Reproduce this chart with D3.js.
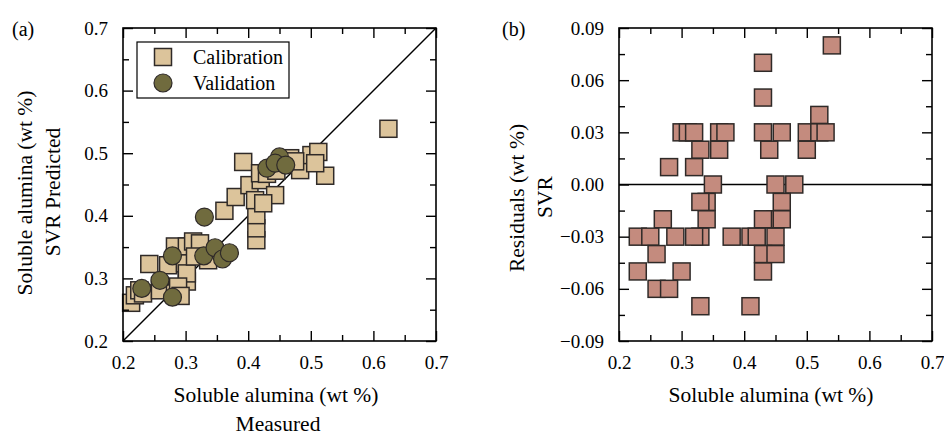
<!DOCTYPE html>
<html><head><meta charset="utf-8">
<script src="https://cdn.jsdelivr.net/npm/d3@7"></script>
<style>
html,body{margin:0;padding:0;background:#fff;}
svg{display:block;font-family:"Liberation Serif","Times New Roman",serif;}
</style></head>
<body><svg id="c" width="944" height="439"></svg>
<script>
// Panel (a): calibration (measured, predicted)
const calMeasured = [0.624,0.213,0.219,0.226,0.232,0.242,0.259,0.272,0.283,0.302,0.312,0.323,0.299,0.302,0.302,0.283,0.288,0.292,0.315,0.336,0.413,0.413,0.413,0.362,0.380,0.392,0.402,0.420,0.419,0.443,0.411,0.424,0.483,0.501,0.512,0.523,0.507,0.467,0.430,0.475,0.445];
const calPredicted = [0.539,0.261,0.273,0.281,0.276,0.323,0.281,0.321,0.351,0.351,0.359,0.356,0.324,0.295,0.308,0.276,0.287,0.272,0.335,0.329,0.361,0.380,0.401,0.408,0.430,0.486,0.449,0.457,0.468,0.433,0.425,0.420,0.473,0.497,0.502,0.464,0.484,0.492,0.467,0.487,0.472];
// Panel (a): validation (measured, predicted)
const valMeasured = [0.230,0.259,0.279,0.279,0.330,0.329,0.347,0.359,0.370,0.430,0.450,0.443,0.460];
const valPredicted = [0.284,0.297,0.270,0.336,0.398,0.336,0.349,0.331,0.341,0.476,0.494,0.484,0.481];
// Panel (b): residuals vs soluble alumina
const resX = [0.54,0.43,0.43,0.52,
  0.30,0.31,0.32,0.36,0.37,0.43,0.46,0.50,0.52,0.53,
  0.33,0.36,0.44,0.50,
  0.28,0.32,
  0.35,0.45,0.48,
  0.34,0.33,0.46,
  0.27,0.34,0.45,0.43,0.46,
  0.23,0.25,0.29,0.33,0.32,0.38,0.41,0.42,0.45,
  0.26,0.43,0.45,
  0.23,0.30,0.43,
  0.26,0.28,
  0.33,0.41];
const resY = [0.08,0.07,0.05,0.04,
  0.03,0.03,0.03,0.03,0.03,0.03,0.03,0.03,0.03,0.03,
  0.02,0.02,0.02,0.02,
  0.01,0.01,
  0.00,0.00,0.00,
  -0.01,-0.01,-0.01,
  -0.02,-0.02,-0.02,-0.02,-0.02,
  -0.03,-0.03,-0.03,-0.03,-0.03,-0.03,-0.03,-0.03,-0.03,
  -0.04,-0.04,-0.04,
  -0.05,-0.05,-0.05,
  -0.06,-0.06,
  -0.07,-0.07];
const xTicks = [0.2,0.3,0.4,0.5,0.6,0.7];
const xMinor = [0.25,0.35,0.45,0.55,0.65];
const yTicksA = [0.2,0.3,0.4,0.5,0.6,0.7];
const yMinorA = [0.25,0.35,0.45,0.55,0.65];
const yTicksB = [-0.09,-0.06,-0.03,0.00,0.03,0.06,0.09];
const yMinorB = [-0.075,-0.045,-0.015,0.015,0.045,0.075];
const legendLabels = ["Calibration","Validation"];

const svg = d3.select("#c");
const TOP=28, BOT=341;
const calFill="#dcc49b", valFill="#706b3e", resFill="#c48b7e", edge="#2f2a28";
const SQ=17;
const TF=21.5;

function frame(g, x, y, xt, xm, yt, ym, yfmt){
  const L=x.range()[0], R=x.range()[1];
  const addAxis=(gen, tr, vals, size, fmt)=>{
    const a=g.append("g").attr("transform",tr)
      .call(gen.tickValues(vals).tickSize(size).tickSizeOuter(0).tickPadding(15).tickFormat(fmt||""));
    a.select(".domain").remove();
    a.selectAll("line").attr("stroke","#000").attr("stroke-width",1.4);
    a.selectAll("text").attr("font-family","Liberation Serif").attr("font-size",19).attr("fill","#000");
    return a;
  };
  addAxis(d3.axisBottom(x), `translate(0,${BOT})`, xt, -10, d3.format(".1f"));
  addAxis(d3.axisBottom(x), `translate(0,${BOT})`, xm, -6);
  addAxis(d3.axisTop(x), `translate(0,${TOP})`, xt, -10);
  addAxis(d3.axisTop(x), `translate(0,${TOP})`, xm, -6);
  addAxis(d3.axisLeft(y), `translate(${L},0)`, yt, -10, yfmt);
  addAxis(d3.axisLeft(y), `translate(${L},0)`, ym, -6);
  addAxis(d3.axisRight(y), `translate(${R},0)`, yt, -10);
  addAxis(d3.axisRight(y), `translate(${R},0)`, ym, -6);
  g.append("rect").attr("x",L).attr("y",TOP).attr("width",R-L).attr("height",BOT-TOP)
    .attr("fill","none").attr("stroke","#000").attr("stroke-width",1.6);
}

// ---------- Panel (a)
const xa = d3.scaleLinear().domain([0.2,0.7]).range([123,436]);
const ya = d3.scaleLinear().domain([0.2,0.7]).range([BOT,TOP]);
const ga = svg.append("g");
const plotA = ga.append("g");
plotA.append("line").attr("x1",xa(0.2)).attr("y1",ya(0.2)).attr("x2",xa(0.7)).attr("y2",ya(0.7))
  .attr("stroke","#000").attr("stroke-width",1.4);
plotA.selectAll("rect.cal").data(calMeasured.map((m,i)=>[m,calPredicted[i]])).join("rect")
  .attr("class","cal").attr("x",d=>xa(d[0])-SQ/2).attr("y",d=>ya(d[1])-SQ/2)
  .attr("width",SQ).attr("height",SQ).attr("fill",calFill).attr("stroke",edge).attr("stroke-width",1.5);
plotA.selectAll("circle.val").data(valMeasured.map((m,i)=>[m,valPredicted[i]])).join("circle")
  .attr("class","val").attr("cx",d=>xa(d[0])).attr("cy",d=>ya(d[1])).attr("r",9)
  .attr("fill",valFill).attr("stroke",edge).attr("stroke-width",1.2);
frame(ga, xa, ya, xTicks, xMinor, yTicksA, yMinorA, d3.format(".1f"));

// legend
const lg = ga.append("g");
lg.append("rect").attr("x",137).attr("y",42).attr("width",152).attr("height",56)
  .attr("fill","#fff").attr("stroke","#000").attr("stroke-width",1.2);
lg.append("rect").attr("x",163-SQ/2).attr("y",57-SQ/2).attr("width",SQ).attr("height",SQ)
  .attr("fill",calFill).attr("stroke",edge).attr("stroke-width",1.5);
lg.append("circle").attr("cx",163).attr("cy",83).attr("r",9)
  .attr("fill",valFill).attr("stroke",edge).attr("stroke-width",1.2);
lg.selectAll("text").data(legendLabels).join("text")
  .attr("x",193).attr("y",(d,i)=>64+i*26).attr("font-size",20).text(d=>d);

ga.append("text").attr("x",12).attr("y",36).attr("font-size",20).text("(a)");
ga.append("text").attr("x",276).attr("y",402).attr("text-anchor","middle").attr("font-size",TF).text("Soluble alumina (wt %)");
ga.append("text").attr("x",278).attr("y",431).attr("text-anchor","middle").attr("font-size",TF).text("Measured");
ga.append("text").attr("transform","translate(32,193) rotate(-90)").attr("text-anchor","middle").attr("font-size",TF).text("Soluble alumina (wt %)");
ga.append("text").attr("transform","translate(60,192) rotate(-90)").attr("text-anchor","middle").attr("font-size",TF).text("SVR Predicted");

// ---------- Panel (b)
const xb = d3.scaleLinear().domain([0.2,0.7]).range([619,932]);
const yb = d3.scaleLinear().domain([-0.09,0.09]).range([BOT,TOP]);
const gb = svg.append("g");
gb.append("line").attr("x1",xb(0.2)).attr("x2",xb(0.7)).attr("y1",yb(0)).attr("y2",yb(0))
  .attr("stroke","#000").attr("stroke-width",1.4);
gb.selectAll("rect.res").data(resX.map((v,i)=>[v,resY[i]])).join("rect")
  .attr("class","res").attr("x",d=>xb(d[0])-SQ/2).attr("y",d=>yb(d[1])-SQ/2)
  .attr("width",SQ).attr("height",SQ).attr("fill",resFill).attr("stroke",edge).attr("stroke-width",1.5);
frame(gb, xb, yb, xTicks, xMinor, yTicksB, yMinorB, d3.format(".2f"));

gb.append("text").attr("x",502).attr("y",36).attr("font-size",20).text("(b)");
gb.append("text").attr("x",771).attr("y",402).attr("text-anchor","middle").attr("font-size",TF).text("Soluble alumina (wt %)");
gb.append("text").attr("transform","translate(524,198) rotate(-90)").attr("text-anchor","middle").attr("font-size",TF).text("Residuals (wt %)");
gb.append("text").attr("transform","translate(552,197) rotate(-90)").attr("text-anchor","middle").attr("font-size",TF).text("SVR");
</script></body></html>
